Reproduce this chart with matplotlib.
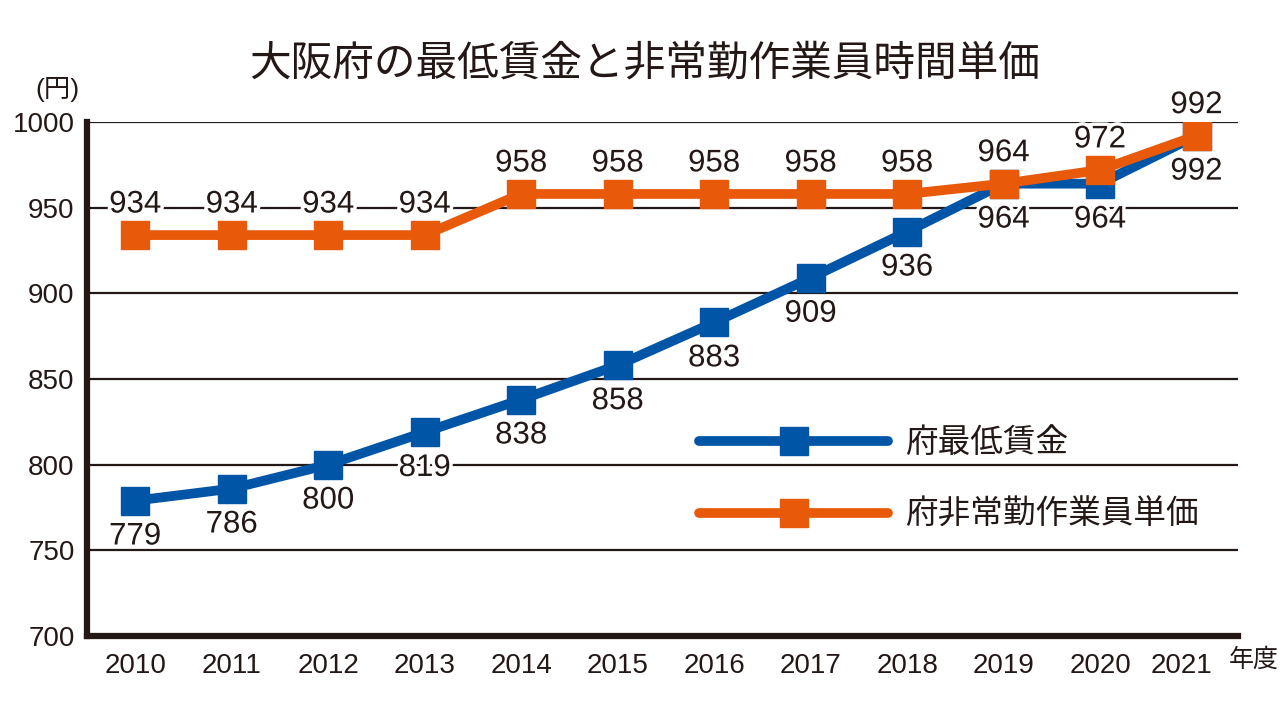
import matplotlib
matplotlib.use("Agg")
import matplotlib.pyplot as plt
import matplotlib.transforms as mtransforms
import matplotlib.patheffects as pe
from matplotlib.lines import Line2D

years = [2010, 2011, 2012, 2013, 2014, 2015, 2016, 2017, 2018, 2019, 2020, 2021]
min_wage = [779, 786, 800, 819, 838, 858, 883, 909, 936, 964, 964, 992]
part_time = [934, 934, 934, 934, 958, 958, 958, 958, 958, 964, 972, 992]
yticks = [700, 750, 800, 850, 900, 950, 1000]
title = "大阪府の最低賃金と非常勤作業員時間単価"
label_min = "府最低賃金"
label_part = "府非常勤作業員単価"

BLUE = "#0055a6"
ORANGE = "#e8590a"
DARK = "#231815"
FAM = ["Liberation Sans", "Noto Sans CJK JP", "DejaVu Sans"]
plt.rcParams["font.family"] = FAM

fig = plt.figure(figsize=(12.88, 7.14), dpi=100)
ax = fig.add_axes([87/1288, 1-636/714, (1238-87)/1288, (636-122)/714])
ax.set_xlim(2009.5, 2021.43)
ax.set_ylim(700, 1000)

for y in yticks[1:]:
    ax.axhline(y, color=DARK, lw=1.6, zorder=1)

for s in ["top", "right"]:
    ax.spines[s].set_visible(False)
for s in ["left", "bottom"]:
    ax.spines[s].set_linewidth(4.5)
    ax.spines[s].set_color(DARK)
    ax.spines[s].set_capstyle("projecting")

ax.set_yticks(yticks)
ax.set_yticklabels([str(v) for v in yticks], fontsize=20, color=DARK)
ax.set_xticks(years)
ax.set_xticklabels([str(v) for v in years], fontsize=20, color=DARK)
ax.tick_params(length=0)
ax.tick_params(axis="y", pad=9)
ax.tick_params(axis="x", pad=12)
last = ax.get_xticklabels()[-1]
last.set_transform(last.get_transform() +
                   mtransforms.ScaledTranslation(-15/100, 0, fig.dpi_scale_trans))

ax.plot(years, min_wage, color=BLUE, lw=7, marker="s", ms=20, zorder=3,
        solid_capstyle="round")
ax.plot(years, part_time, color=ORANGE, lw=7, marker="s", ms=20, zorder=4,
        solid_capstyle="round")

halo = [pe.withStroke(linewidth=5, foreground="white")]
for x, v in zip(years, min_wage):
    ax.annotate(str(v), (x, v), xytext=(0, -23.3), textcoords="offset points",
                ha="center", va="center_baseline", fontsize=22.5, color=DARK,
                path_effects=halo, zorder=5)
for x, v in zip(years, part_time):
    ax.annotate(str(v), (x, v), xytext=(0, 22), textcoords="offset points",
                ha="center", va="center", fontsize=22.5, color=DARK,
                path_effects=halo, zorder=5)

fig.text(645/1288, 1-65/714, title, ha="center", va="center", fontsize=30,
         color=DARK)
fig.text(57/1288, 1-90/714, "(円)", ha="center", va="center", fontsize=19,
         color=DARK)
fig.text(1229/1288, 1-660/714, "年度", ha="left", va="center", fontsize=18,
         color=DARK)

handles = [
    Line2D([], [], color=BLUE, lw=7, marker="s", ms=20, solid_capstyle="round"),
    Line2D([], [], color=ORANGE, lw=7, marker="s", ms=20, solid_capstyle="round"),
]
leg = ax.legend(handles, [label_min, label_part], loc="upper left",
                bbox_to_anchor=(699/1288, 1-428/714), bbox_transform=fig.transFigure,
                frameon=False, numpoints=1, fontsize=23.5, handlelength=5.8,
                handletextpad=0.5, labelspacing=1.25, borderaxespad=0,
                borderpad=0)
for t in leg.get_texts():
    t.set_color(DARK)

fig.savefig("out.png", dpi=100)
